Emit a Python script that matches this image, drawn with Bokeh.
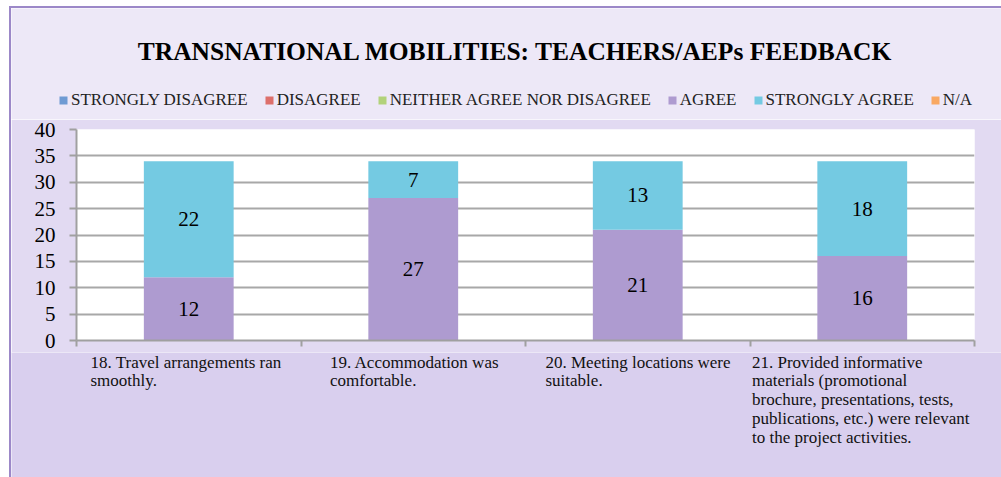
from bokeh.plotting import figure
from bokeh.layouts import column
from bokeh.models import (Range1d, FixedTicker, Legend, LegendItem, Label, ColumnDataSource)
from bokeh.core.properties import value
from bokeh.embed import file_html
from bokeh.resources import INLINE

# ---- data ----
title_text = "TRANSNATIONAL MOBILITIES: TEACHERS/AEPs FEEDBACK"
categories = [
    "18. Travel arrangements ran\nsmoothly.",
    "19. Accommodation was\ncomfortable.",
    "20. Meeting locations were\nsuitable.",
    "21. Provided informative\nmaterials (promotional\nbrochure, presentations, tests,\npublications, etc.) were relevant\nto the project activities.",
]
series_names = ["STRONGLY DISAGREE", "DISAGREE", "NEITHER AGREE NOR DISAGREE",
                "AGREE", "STRONGLY AGREE", "N/A"]
strongly_disagree = [0, 0, 0, 0]
disagree = [0, 0, 0, 0]
neither = [0, 0, 0, 0]
agree = [12, 27, 21, 16]
strongly_agree = [22, 7, 13, 18]
na = [0, 0, 0, 0]
y_ticks = [0, 5, 10, 15, 20, 25, 30, 35, 40]

# ---- styling ----
colors = ["#6F9BD3", "#DD6F6B", "#B2D27A", "#AE9BD0", "#74CAE2", "#F9A862"]
FONT = "Liberation Serif"
label_dx_px = [14, 29, 20, 2]   # left offset of each wrapped label block
W = 990
LEFT, RIGHT = 65, 27
FRAME_W = W - LEFT - RIGHT
N = len(categories)


def no_align(fig):
    if "frame_align" in fig.properties():
        fig.frame_align = False


keys = ["sd", "d", "n", "a", "sa", "na"]
data = dict(x=[i + 0.5 for i in range(N)])
for k, v in zip(keys, [strongly_disagree, disagree, neither, agree, strongly_agree, na]):
    data[k] = v
source = ColumnDataSource(data)

# ---------- header: title + legend ----------
HEAD_BG = "#EDE8F7"
h = figure(width=W, height=111, output_backend="svg", toolbar_location=None,
           x_axis_type=None, y_axis_type=None, min_border=0,
           x_range=Range1d(0, N), y_range=Range1d(100, 101))
no_align(h)
h.border_fill_color = HEAD_BG
h.background_fill_color = HEAD_BG
h.outline_line_color = None
h.grid.visible = False
hr = h.vbar_stack(keys, x="x", width=0.4, source=source, color=colors, line_color=None)

h.add_layout(Label(x=504, y=68, x_units="screen", y_units="screen", text=title_text,
                   text_align="center", text_baseline="middle", text_font=FONT,
                   text_font_style="bold", text_font_size="25.5px", text_color="black"))

legend = Legend(items=[LegendItem(label=n, renderers=[r]) for n, r in zip(series_names, hr)],
                orientation="horizontal", location=(43, 5))
legend.background_fill_alpha = 0
legend.border_line_alpha = 0
legend.glyph_width = 10
legend.glyph_height = 10
legend.label_standoff = 3
legend.spacing = 16
legend.padding = 4
legend.margin = 0
legend.label_text_font = FONT
legend.label_text_font_size = "17px"
legend.label_text_color = "#222222"
h.add_layout(legend, "center")

# ---------- main chart ----------
MAIN_BG = "#E2DAF2"
p = figure(width=W, height=233, output_backend="svg", toolbar_location=None,
           x_range=Range1d(0, N), y_range=Range1d(0, 40),
           min_border_left=LEFT, min_border_right=RIGHT, min_border_bottom=12, min_border_top=10)
no_align(p)
p.border_fill_color = MAIN_BG
p.background_fill_color = "white"
p.outline_line_color = None

p.vbar_stack(keys, x="x", width=0.4, source=source, color=colors, line_color=None)

mid_a = [v / 2 for v in agree]
mid_sa = [a + s / 2 for a, s in zip(agree, strongly_agree)]
lab_src = ColumnDataSource(dict(x=data["x"] * 2, y=mid_a + mid_sa,
                                t=[str(v) for v in agree + strongly_agree]))
p.text(x="x", y="y", text="t", source=lab_src, text_align="center", text_baseline="middle",
       text_font=value(FONT), text_font_size="21px", text_color="black")

p.yaxis.ticker = FixedTicker(ticks=y_ticks)
p.yaxis.major_label_text_font = FONT
p.yaxis.major_label_text_font_size = "21px"
p.yaxis.major_label_text_color = "black"
p.yaxis.major_label_standoff = 14
p.yaxis.axis_line_color = "#A0A0A0"
p.yaxis.axis_line_width = 2
p.yaxis.major_tick_line_color = "#A0A0A0"
p.yaxis.major_tick_line_width = 2
p.yaxis.major_tick_out = 7
p.yaxis.major_tick_in = 0
p.yaxis.minor_tick_line_color = None

p.xaxis.ticker = FixedTicker(ticks=[], minor_ticks=list(range(N + 1)))
p.xaxis.major_label_standoff = 0
p.xaxis.axis_line_color = "#A0A0A0"
p.xaxis.axis_line_width = 2
p.xaxis.major_tick_line_color = None
p.xaxis.minor_tick_line_color = "#A0A0A0"
p.xaxis.minor_tick_line_width = 2
p.xaxis.minor_tick_out = 6
p.xaxis.minor_tick_in = 0

p.xgrid.grid_line_color = None
p.ygrid.ticker = FixedTicker(ticks=y_ticks)
p.ygrid.grid_line_color = "#A8A8A8"
p.ygrid.grid_line_width = 2

# ---------- footer: wrapped category labels ----------
FOOT_BG = "#D9CFEE"
f = figure(width=W, height=125, output_backend="svg", toolbar_location=None,
           x_axis_type=None, y_axis_type=None, min_border=0,
           x_range=Range1d(-LEFT * N / FRAME_W, N + RIGHT * N / FRAME_W),
           y_range=Range1d(0, 1))
no_align(f)
f.border_fill_color = FOOT_BG
f.background_fill_color = FOOT_BG
f.outline_line_color = None
f.grid.visible = False
for i, c in enumerate(categories):
    f.add_layout(Label(x=i, y=1, x_offset=label_dx_px[i], y_offset=0, text=c,
                       text_align="left", text_baseline="top", text_font=FONT,
                       text_font_size="17px", text_color="#111111", text_line_height=0.99))

layout = column(h, p, f, spacing=0, margin=(6, 0, 0, 9))
layout.styles = {"border-left": "2px solid #9C88C8", "border-top": "2px solid #9C88C8"}

open("out.html", "w").write(file_html(layout, INLINE))
